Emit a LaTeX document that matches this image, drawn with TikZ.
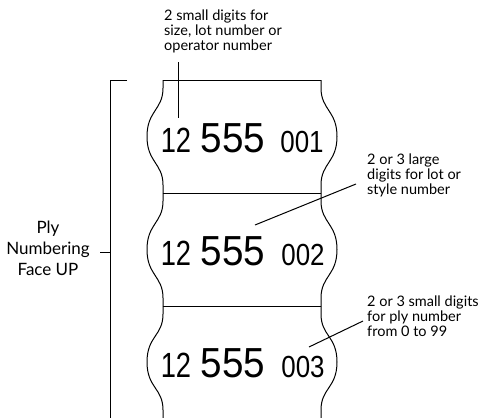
\documentclass[tikz,border=0pt]{standalone}
\usepackage{fontspec}
\setmainfont{Lato}
\newfontfamily\digs[FakeStretch=0.85]{Liberation Sans}
\newfontfamily\digsn[FakeStretch=0.78]{Liberation Sans}
\newfontfamily\digsw[FakeStretch=0.92]{Liberation Sans}
\begin{document}
\begin{tikzpicture}[x=1pt,y=-1pt,
  tape/.style={line width=1pt},
  leader/.style={line width=1pt},
  small/.style={inner sep=0pt,anchor=base,font=\digsn\fontsize{35}{35}\selectfont},
  large/.style={inner sep=0pt,anchor=base,font=\digsw\fontsize{42}{42}\selectfont},
  tiny/.style={inner sep=0pt,anchor=base,font=\digs\fontsize{30.5}{30.5}\selectfont},
  ann/.style={inner sep=0pt,anchor=north west,align=left,font=\fontsize{14.5}{15}\selectfont},
]
\useasboundingbox (0,0) rectangle (485,418);
% tape outline
\foreach \a/\b in {80/193,193/306,306/418}{
  \pgfmathsetmacro\m{(\a+\b)/2}
  \draw[tape] (163,\a) -- (163,{\a+8}) .. controls (163,{\a+30}) and (147,{\m-26}) .. (147,\m)
     .. controls (147,{\m+26}) and (163,{\b-30}) .. (163,{\b-8}) -- (163,\b);
  \draw[tape] (321,\a) -- (321,{\a+8}) .. controls (321,{\a+30}) and (337,{\m-26}) .. (337,\m)
     .. controls (337,{\m+26}) and (321,{\b-30}) .. (321,{\b-8}) -- (321,\b);
  \draw[tape] (163,\a) -- (321,\a);
}
% digits
\node[small] (s1) at (176,152) {12};
\node[large] (l1) at (233,152) {555};
\node[tiny]  (t1) at (302,152) {001};
\node[small] (s2) at (176,265) {12};
\node[large] (l2) at (233,265) {555};
\node[tiny]  (t2) at (303,265) {002};
\node[small] (s3) at (176,377) {12};
\node[large] (l3) at (233,377) {555};
\node[tiny]  (t3) at (303,377) {003};
% bracket
\coordinate (bt) at (127,80);
\coordinate (bc) at (110,80);
\coordinate (bb) at (110,418);
\coordinate (tk) at (100,252);
\coordinate (tm) at (110,252);
\draw[leader] (bt) -- (bc) -- (bb);
\draw[leader] (tk) -- (tm);
\node[inner sep=0pt,anchor=north,align=center,font=\fontsize{17}{21}\selectfont] (ply) at (48,220.5) {Ply\\Numbering\\Face UP};
% annotations
\node[ann] (a1) at (164,9.5) {2 small digits for\\size, lot number or\\operator number};
\node[ann] (a2) at (367,154) {2 or 3 large\\digits for lot or\\style number};
\node[ann] (a3) at (367,296) {2 or 3 small digits\\for ply number\\from 0 to 99};
\coordinate (p1a) at (178,62);
\coordinate (p1b) at (178,118);
\coordinate (p2a) at (356,184);
\coordinate (p2b) at (255,225);
\coordinate (p3a) at (363,321);
\coordinate (p3b) at (309,347);
\draw[leader] (p1a) -- (p1b);
\draw[leader] (p2a) -- (p2b);
\draw[leader] (p3a) -- (p3b);
\end{tikzpicture}
\end{document}
